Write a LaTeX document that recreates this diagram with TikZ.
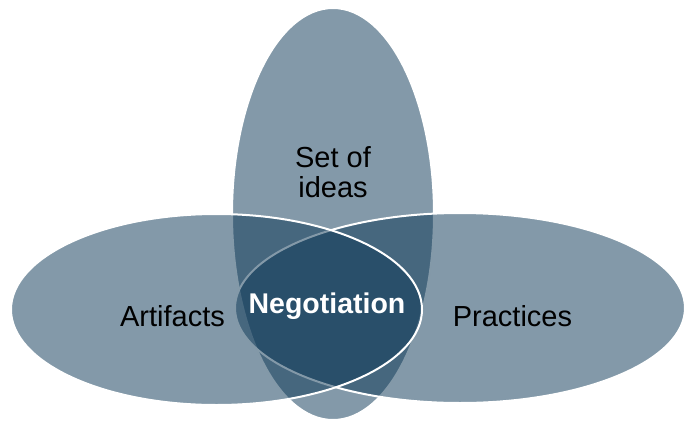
\documentclass[tikz,border=0pt]{standalone}
\usepackage{xcolor}
\usepackage{fontspec}
\setmainfont{Liberation Sans}
\usetikzlibrary{shapes.geometric}

\definecolor{petal}{RGB}{12,55,86}

\tikzset{
  set/.style={draw=white, line width=2pt, fill=petal, fill opacity=0.51, ellipse, inner sep=0pt},
  lbl/.style={text=black, font=\fontsize{29}{30}\selectfont, align=center}
}

\begin{document}
\begin{tikzpicture}[x=1pt, y=-1pt]
        \useasboundingbox (0,0) rectangle (686,421);

        % the three sets
        \node[set, minimum width=202, minimum height=412] (ideas) at (333,214) {};
        \node[set, minimum width=450, minimum height=190] (practices) at (460,308) {};
        \node[set, minimum width=411, minimum height=191] (artifacts) at (216.5,309.5) {};

        % labels
        \node[lbl] (ideastxt) at (333,172) {Set of\\ideas};
        \node[lbl, anchor=base] (artifactstxt) at (172.5,326) {Artifacts};
        \node[lbl, anchor=base] (practicestxt) at (512.5,326) {Practices};
        \node[lbl, anchor=base, text=white, font=\fontsize{28.5}{30}\selectfont\bfseries] (nego) at (327,313) {Negotiation};

    \end{tikzpicture}
\end{document}
